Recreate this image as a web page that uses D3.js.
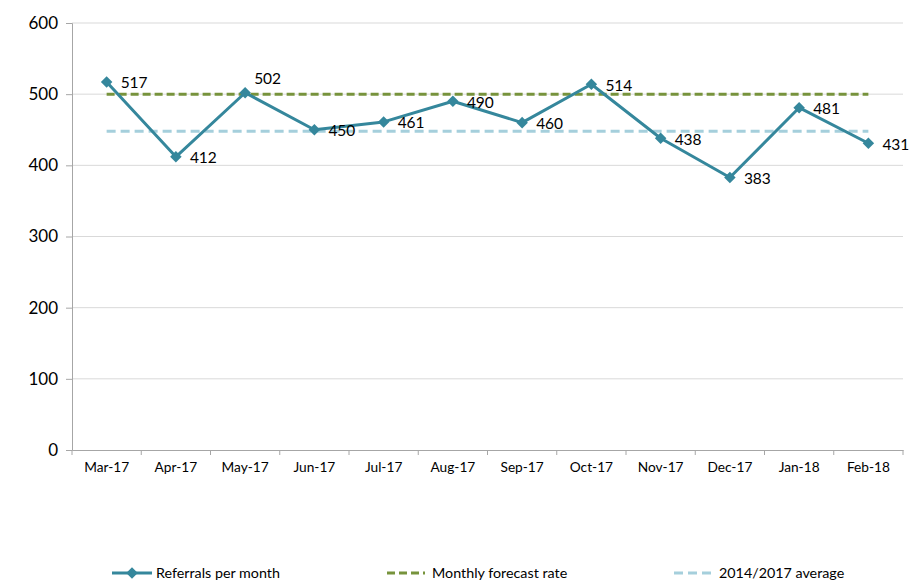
<!DOCTYPE html>
<html>
<head>
<meta charset="utf-8">
<script src="https://cdn.jsdelivr.net/npm/d3@7"></script>
<style>
  body { margin: 0; background: #fff; }
  svg { font-family: Lato, "Open Sans", sans-serif; fill: #000; }
</style>
</head>
<body>
<svg width="910" height="581"></svg>
<script>
// data
const months = ['Mar-17','Apr-17','May-17','Jun-17','Jul-17','Aug-17','Sep-17','Oct-17','Nov-17','Dec-17','Jan-18','Feb-18'];
const referrals = [517, 412, 502, 450, 461, 490, 460, 514, 438, 383, 481, 431];
const forecastRate = 500;
const average = 448;
const yTicks = [0, 100, 200, 300, 400, 500, 600];

// layout
const width = 910, height = 581;
const margin = { top: 23, right: 7, bottom: 131, left: 72 };
const svg = d3.select('svg');

const x = d3.scaleBand().domain(months).range([margin.left, width - margin.right]);
const y = d3.scaleLinear().domain([0, 600]).range([height - margin.bottom, margin.top]);
const cx = d => x(d) + x.bandwidth() / 2;

// grid
svg.append('g')
  .selectAll('line')
  .data(yTicks.filter(d => d > 0))
  .join('line')
  .attr('x1', margin.left).attr('x2', width - margin.right)
  .attr('y1', d => y(d)).attr('y2', d => y(d))
  .attr('stroke', '#d9d9d9').attr('stroke-width', 1);

// y axis
const yAxis = svg.append('g')
  .attr('transform', `translate(${margin.left},0)`)
  .call(d3.axisLeft(y).tickValues(yTicks).tickSize(6).tickPadding(8));
yAxis.select('.domain').attr('stroke', '#a6a6a6');
yAxis.selectAll('.tick line').attr('stroke', '#a6a6a6');
yAxis.selectAll('text').attr('font-size', 17).attr('fill', '#000').attr('font-family', 'Lato');

// x axis
const xAxis = svg.append('g')
  .attr('transform', `translate(0,${y(0)})`)
  .call(d3.axisBottom(x).tickSize(0).tickPadding(12));
xAxis.select('.domain').attr('stroke', '#a6a6a6');
xAxis.selectAll('text').attr('font-size', 13.7).attr('fill', '#000').attr('font-family', 'Lato');
// tick marks between categories
svg.append('g')
  .selectAll('line')
  .data(months.map((m, i) => i).concat([months.length]))
  .join('line')
  .attr('x1', i => margin.left + i * x.step())
  .attr('x2', i => margin.left + i * x.step())
  .attr('y1', y(0)).attr('y2', y(0) + 5)
  .attr('stroke', '#a6a6a6');

// reference lines
const firstX = cx(months[0]), lastX = cx(months[months.length - 1]);
svg.append('line')
  .attr('x1', firstX).attr('x2', lastX)
  .attr('y1', y(average)).attr('y2', y(average))
  .attr('stroke', '#a5cfdc').attr('stroke-width', 3).attr('stroke-dasharray', '9,5');
svg.append('line')
  .attr('x1', firstX).attr('x2', lastX)
  .attr('y1', y(forecastRate)).attr('y2', y(forecastRate))
  .attr('stroke', '#77933c').attr('stroke-width', 3).attr('stroke-dasharray', '8,4');

// referrals line
const teal = '#35879c';
const line = d3.line().x((d, i) => cx(months[i])).y(d => y(d));
svg.append('path')
  .datum(referrals)
  .attr('d', line)
  .attr('fill', 'none')
  .attr('stroke', teal)
  .attr('stroke-width', 3)
  .attr('stroke-linejoin', 'round');

const diamond = d3.symbol().type(d3.symbolDiamond2).size(85);
svg.append('g')
  .selectAll('path')
  .data(referrals)
  .join('path')
  .attr('d', diamond)
  .attr('transform', (d, i) => `translate(${cx(months[i])},${y(d)})`)
  .attr('fill', teal);

// data labels (May-17 label sits above)
svg.append('g')
  .selectAll('text')
  .data(referrals)
  .join('text')
  .attr('x', (d, i) => cx(months[i]) + (i === 2 ? 9 : 14))
  .attr('y', (d, i) => y(d) + (i === 2 ? -14 : 1))
  .attr('dy', '0.35em')
  .attr('font-size', 15.5)
  .text(d => d);

// legend
const legendY = 573;
const legend = svg.append('g');
legend.append('line')
  .attr('x1', 112).attr('x2', 152).attr('y1', legendY).attr('y2', legendY)
  .attr('stroke', teal).attr('stroke-width', 3);
legend.append('path')
  .attr('d', diamond)
  .attr('transform', `translate(132,${legendY})`)
  .attr('fill', teal);
legend.append('text').attr('x', 156).attr('y', legendY).attr('dy', '0.35em')
  .attr('font-size', 14.3).text('Referrals per month');

legend.append('line')
  .attr('x1', 387).attr('x2', 425).attr('y1', legendY).attr('y2', legendY)
  .attr('stroke', '#77933c').attr('stroke-width', 3).attr('stroke-dasharray', '8,4');
legend.append('text').attr('x', 432).attr('y', legendY).attr('dy', '0.35em')
  .attr('font-size', 14.3).text('Monthly forecast rate');

legend.append('line')
  .attr('x1', 674).attr('x2', 713).attr('y1', legendY).attr('y2', legendY)
  .attr('stroke', '#a5cfdc').attr('stroke-width', 3).attr('stroke-dasharray', '9,5');
legend.append('text').attr('x', 719).attr('y', legendY).attr('dy', '0.35em')
  .attr('font-size', 14.3).text('2014/2017 average');
</script>
</body>
</html>
